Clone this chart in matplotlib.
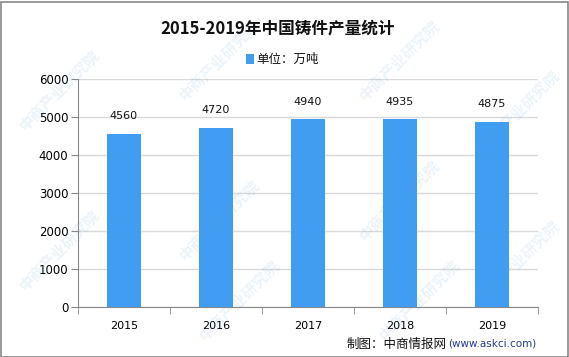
import matplotlib
matplotlib.use("Agg")
import matplotlib.pyplot as plt
from matplotlib.patches import Rectangle
import numpy as np

plt.rcParams['font.family'] = ['Noto Sans CJK SC', 'DejaVu Sans']

years = ['2015', '2016', '2017', '2018', '2019']
values = [4560, 4720, 4940, 4935, 4875]
yticks = [0, 1000, 2000, 3000, 4000, 5000, 6000]

bar_color = '#419DF2'

fig = plt.figure(figsize=(5.69, 3.57), dpi=100)
ax = fig.add_axes([78/569, 50/357, 460/569, 228/357])

# watermarks (kept inside the figure)
wm_positions = [(60, 90), (220, 60), (400, 60), (520, 110), (60, 250), (220, 220), (400, 200),
                (520, 260), (240, 300), (420, 300)]
for (px, py) in wm_positions:
    fig.text(px/569, 1 - py/357, '中商产业研究院', fontsize=11, color='#5AA0D8', alpha=0.12,
             rotation=45, ha='center', va='center', fontweight='bold', zorder=0)

x = np.arange(len(years))
ax.bar(x, values, width=0.37, color=bar_color, zorder=3)
for xi, v in zip(x, values):
    ax.annotate(str(v), (xi, v), xytext=(0, 9), textcoords='offset points',
                ha='center', va='bottom', fontsize=8, family='DejaVu Sans', color='#111111')

ax.set_xlim(-0.5, len(years) - 0.5)
ax.set_ylim(0, 6000)
ax.set_yticks(yticks)
ax.set_yticklabels([str(t) for t in yticks], family='DejaVu Sans', fontsize=8.5)
ax.set_xticks(x)
ax.set_xticklabels(years, family='DejaVu Sans', fontsize=8)
ax.set_xticks(np.arange(-0.5, len(years)), minor=True)
ax.tick_params(axis='x', which='major', length=0, pad=10)
ax.tick_params(axis='x', which='minor', length=5, color='#888888', direction='out')
ax.tick_params(axis='y', length=5, color='#888888', direction='out', pad=2)
ax.grid(axis='y', color='#D9D9D9', linewidth=1, zorder=0)
for s in ['top', 'right']:
    ax.spines[s].set_visible(False)
ax.spines['left'].set_color('#888888')
ax.spines['bottom'].set_color('#888888')
ax.set_facecolor('none')

fig.text(278/569, 1 - 28/357, '2015-2019年中国铸件产量统计', ha='center', va='center',
         fontsize=12, fontweight='bold', color='#111111')

# legend
fig.patches.append(Rectangle((246/569, 1 - 64/357), 8/569, 10/357, transform=fig.transFigure,
                             facecolor=bar_color, edgecolor='none'))
fig.text(256/569, 1 - 59/357, '单位：万吨', ha='left', va='center', fontsize=9, color='#111111')

# source
t1 = fig.text(347/569, 1 - 344/357, '制图：中商情报网', ha='left', va='center', fontsize=9, color='#111111')
fig.canvas.draw()
bb = t1.get_window_extent(renderer=fig.canvas.get_renderer())
x2 = bb.x1 / fig.bbox.width + 1/569
fig.text(x2, 1 - 344/357, '(www.askci.com)', ha='left', va='center', fontsize=7.5,
         color='#1F3A93', family='DejaVu Sans')

# border
fig.patches.append(Rectangle((0.5/569, 0.5/357), 567/569, 355/357, transform=fig.transFigure,
                             facecolor='none', edgecolor='#888888', linewidth=1.2))

fig.savefig('out.png', dpi=100)
